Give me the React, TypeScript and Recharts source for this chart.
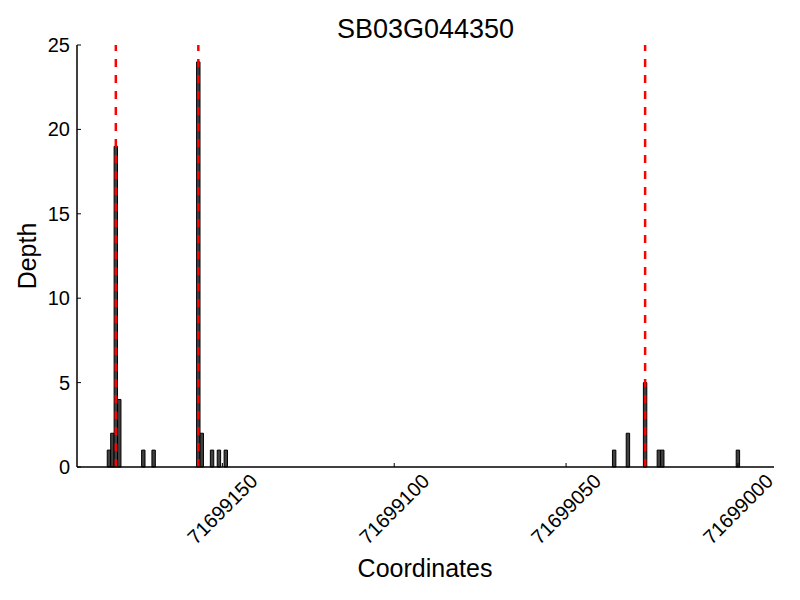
import React from "react";
import {
  ComposedChart,
  Bar,
  XAxis,
  YAxis,
  ReferenceLine,
  Label,
} from "recharts";

// read-depth per genomic coordinate
const positions = [
  71699183, 71699182, 71699181, 71699180, 71699173, 71699170,
  71699157, 71699156, 71699153, 71699151, 71699149,
  71699036, 71699032, 71699027, 71699023, 71699022, 71699000,
];
const depths = [1, 2, 19, 4, 1, 1, 24, 2, 1, 1, 1, 1, 2, 5, 1, 1, 1];

// highlighted sites (red dashed markers)
const markers = [71699181, 71699157, 71699027];

const xTicks = [71699150, 71699100, 71699050, 71699000];
const yTicks = [0, 5, 10, 15, 20, 25];

const data = positions.map((p, i) => ({ pos: p, depth: depths[i] }));

const FONT = "'Liberation Sans', Arial, Helvetica, sans-serif";
const BAR_FILL = "#404040";
const RED = "#ff0000";

function YTick({ x, y, payload }: any) {
  return (
    <g>
      <line x1={x} x2={x + 4} y1={y} y2={y} stroke="#000" strokeWidth={1} />
      <text
        x={x - 7}
        y={y}
        textAnchor="end"
        dominantBaseline="central"
        fontFamily={FONT}
        fontSize={20}
        fill="#000"
      >
        {payload.value}
      </text>
    </g>
  );
}

function XTick({ x, y, payload }: any) {
  const cy = y + 42;
  return (
    <g>
      <line x1={x} x2={x} y1={y} y2={y - 4} stroke="#000" strokeWidth={1} />
      <text
        x={x}
        y={cy}
        transform={`rotate(-45, ${x}, ${cy})`}
        textAnchor="middle"
        dominantBaseline="central"
        fontFamily={FONT}
        fontSize={20}
        fill="#000"
      >
        {payload.value}
      </text>
    </g>
  );
}

export default function App() {
  return (
    <div
      style={{
        position: "absolute",
        left: 0,
        top: 0,
        width: 800,
        height: 600,
        background: "#fff",
        fontFamily: FONT,
      }}
    >
      <div
        style={{
          position: "absolute",
          left: 77,
          width: 697,
          top: 14,
          textAlign: "center",
          fontSize: 27,
          lineHeight: "30px",
          color: "#000",
        }}
      >
        SB03G044350
      </div>
      <ComposedChart
        width={800}
        height={600}
        data={data}
        margin={{ top: 45, right: 26, bottom: 0, left: 0 }}
      >
        <XAxis
          dataKey="pos"
          type="number"
          domain={[71698989.5, 71699192.3]}
          allowDataOverflow
          reversed
          ticks={xTicks}
          interval={0}
          height={133}
          tickSize={0}
          tickMargin={0}
          tickLine={false}
          axisLine={{ stroke: "#000", strokeWidth: 1.5 }}
          tick={<XTick />}
        >
          <Label
            content={() => (
              <text
                x={425}
                y={568}
                textAnchor="middle"
                dominantBaseline="central"
                fontFamily={FONT}
                fontSize={25}
                fill="#000"
              >
                Coordinates
              </text>
            )}
          />
        </XAxis>
        <YAxis
          type="number"
          domain={[0, 25]}
          ticks={yTicks}
          interval={0}
          width={77}
          tickSize={0}
          tickMargin={0}
          tickLine={false}
          axisLine={{ stroke: "#000", strokeWidth: 1.5 }}
          tick={<YTick />}
        >
          <Label
            content={() => (
              <text
                x={27}
                y={256}
                transform="rotate(-90, 27, 256)"
                textAnchor="middle"
                dominantBaseline="central"
                fontFamily={FONT}
                fontSize={25}
                fill="#000"
              >
                Depth
              </text>
            )}
          />
        </YAxis>
        <Bar
          dataKey="depth"
          barSize={3.4}
          fill={BAR_FILL}
          stroke="#000"
          strokeWidth={1}
          isAnimationActive={false}
        />
        {markers.map((m) => (
          <ReferenceLine
            key={m}
            x={m}
            stroke={RED}
            strokeWidth={2.5}
            strokeDasharray="8 8"
          />
        ))}
      </ComposedChart>
    </div>
  );
}
